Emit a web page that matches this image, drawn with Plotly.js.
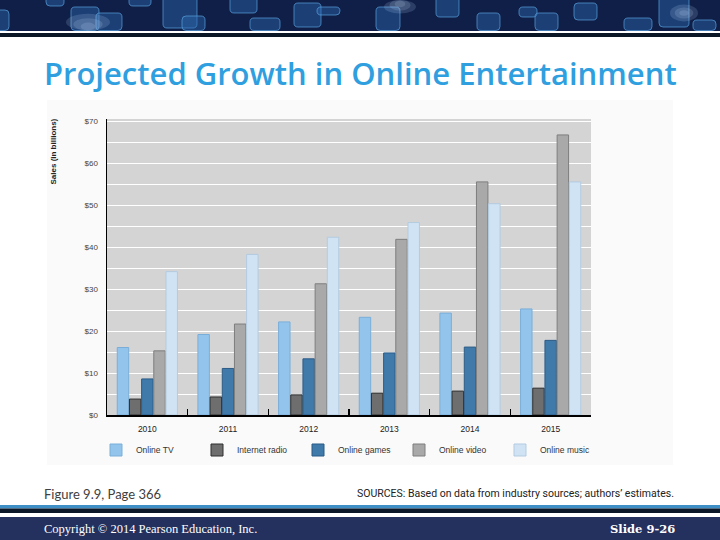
<!DOCTYPE html>
<html>
<head>
<meta charset="utf-8">
<script src="https://cdn.plot.ly/plotly-3.0.1.min.js"></script>
<style>html,body{margin:0;padding:0;background:#fff;}#chart{width:720px;height:540px;}</style>
</head>
<body>
<div id="chart"></div>
<script>
// ---- data ----
const years = ["2010", "2011", "2012", "2013", "2014", "2015"];
const seriesNames = ["Online TV", "Internet radio", "Online games", "Online video", "Online music"];
const onlineTV = [16.1, 19.2, 22.2, 23.3, 24.3, 25.3];
const internetRadio = [3.8, 4.3, 4.8, 5.2, 5.7, 6.4];
const onlineGames = [8.6, 11.1, 13.4, 14.8, 16.2, 17.8];
const onlineVideo = [15.3, 21.7, 31.3, 41.9, 55.6, 66.8];
const onlineMusic = [34.2, 38.3, 42.4, 45.9, 50.4, 55.6];
const yTickVals = [0, 10, 20, 30, 40, 50, 60, 70];
const yTickText = ["$0", "$10", "$20", "$30", "$40", "$50", "$60", "$70"];

// ---- styling ----
const fills = ["#93c4ec", "#6e6e6e", "#3f7aab", "#a9a9a9", "#d0e3f4"];
const outlines = ["#7aaed8", "#2e2e2e", "#2b5b86", "#7e7e7e", "#b3cbe0"];
const values = [onlineTV, internetRadio, onlineGames, onlineVideo, onlineMusic];

const traces = values.map((v, i) => ({
  type: "bar",
  name: seriesNames[i],
  x: years,
  y: v,
  marker: {color: fills[i], line: {color: outlines[i], width: 1}},
  hoverinfo: "skip"
}));

// plot area in pixels
const L = 107, R = 591, T = 119, B = 415;
const px = x => (x - L) / (R - L);
const py = y => (B - y) / (B - T);

function rrect(x0, y0, x1, y1, r) {
  return `M${x0 + r},${y0} L${x1 - r},${y0} Q${x1},${y0} ${x1},${y0 + r} L${x1},${y1 - r} Q${x1},${y1} ${x1 - r},${y1} L${x0 + r},${y1} Q${x0},${y1} ${x0},${y1 - r} L${x0},${y0 + r} Q${x0},${y0} ${x0 + r},${y0} Z`;
}
// pixel -> paper path helper
function pathPx(d) {
  return d.replace(/(-?\d+\.?\d*),(-?\d+\.?\d*)/g, (m, a, b) => `${px(+a).toFixed(5)},${py(+b).toFixed(5)}`);
}
function rectPx(x0, y0, x1, y1, color, extra) {
  return Object.assign({type: "rect", xref: "paper", yref: "paper", layer: "below",
    x0: px(x0), x1: px(x1), y0: py(y1), y1: py(y0), fillcolor: color, line: {width: 0}}, extra || {});
}

const shapes = [];
// chart image background (around the plot area)
const bg = "#fafafa";
shapes.push(rectPx(47, 100, 673, T, bg));
shapes.push(rectPx(47, B, 673, 465, bg));
shapes.push(rectPx(47, T, L, B, bg));
shapes.push(rectPx(R, T, 673, B, bg));
// header banner
shapes.push(rectPx(0, 0, 720, 31, "#0f1f48"));
shapes.push(rectPx(0, 33, 720, 37, "#0c1726"));
const squares = [
  [-4, 10, 9, 31], [46, -4, 64, 6], [71, 7, 99, 31], [96, 13, 122, 31], [129, -4, 151, 6],
  [163, -4, 197, 28], [182, 16, 205, 31], [230, -4, 257, 13], [250, 18, 280, 31], [294, 3, 321, 27],
  [317, 7, 340, 15], [376, 7, 400, 31], [436, -4, 459, 17], [477, 13, 500, 31], [519, 7, 537, 17],
  [535, 13, 558, 31], [574, 3, 597, 20], [624, 18, 652, 31], [659, -4, 689, 27], [693, 20, 716, 31]
];
squares.forEach(s => {
  shapes.push({type: "path", xref: "paper", yref: "paper", layer: "below",
    path: pathPx(rrect(s[0], s[1], s[2], Math.min(s[3], 30.5), 4)),
    fillcolor: "rgba(45,105,175,0.45)", line: {color: "rgba(90,160,220,0.7)", width: 1}});
});
[[88, 27, 22], [400, 4, 16], [684, 13, 14]].forEach(g => {
  for (let k = 3; k >= 1; k--) {
    const r = g[2] * k / 3;
    shapes.push({type: "circle", xref: "paper", yref: "paper", layer: "below",
      x0: px(g[0] - r), x1: px(g[0] + r), y0: py(Math.min(g[1] + r * 0.6, 30.5)), y1: py(Math.max(g[1] - r * 0.6, 0)),
      fillcolor: "rgba(200,225,255,0.16)", line: {width: 0}});
  }
});
// footer
shapes.push(rectPx(0, 505, 720, 508.5, "#3d8fc6"));
shapes.push(rectPx(0, 508.5, 720, 513, "#0b1626"));
shapes.push(rectPx(0, 517, 720, 540, "#24305e"));

const annotations = [
  {text: "Projected Growth in Online Entertainment", x: px(42), y: py(73), xanchor: "left", yanchor: "middle",
    font: {family: "Open Sans", size: 31, color: "#2f9fe0", weight: 600}},
  {text: "Sales (in billions)", x: px(53), y: py(151.5), textangle: -90, xanchor: "center", yanchor: "middle",
    font: {family: "Liberation Sans", size: 8, color: "#222", weight: 700}},
  {text: "Figure 9.9, Page 366", x: px(42), y: py(494), xanchor: "left", yanchor: "middle",
    font: {family: "Lato", size: 13, color: "#404040"}},
  {text: "SOURCES: Based on data from industry sources; authors\u2019 estimates.", x: px(676), y: py(493), xanchor: "right", yanchor: "middle",
    font: {family: "Roboto", size: 10.5, color: "#222"}},
  {text: "Copyright \u00a9 2014 Pearson Education, Inc.", x: px(42), y: py(529), xanchor: "left", yanchor: "middle",
    font: {family: "Liberation Serif", size: 12.5, color: "#ffffff"}},
  {text: "Slide 9-26", x: px(677), y: py(529), xanchor: "right", yanchor: "middle",
    font: {family: "DejaVu Serif", size: 11.5, color: "#ffffff", weight: 700}}
].map(a => Object.assign({xref: "paper", yref: "paper", showarrow: false}, a));

const layout = {
  width: 720, height: 540,
  margin: {l: L, r: 720 - R, t: T, b: 540 - B, pad: 0},
  paper_bgcolor: "#ffffff",
  plot_bgcolor: "#d4d4d4",
  barmode: "group",
  bargap: 0.245,
  bargroupgap: 0.06,
  showlegend: true,
  legend: {orientation: "h", x: px(96), y: py(450), xanchor: "left", yanchor: "middle",
    font: {family: "Liberation Sans", size: 8.5, color: "#333"}, bgcolor: "rgba(0,0,0,0)",
    entrywidth: 56, entrywidthmode: "pixels", traceorder: "normal"},
  xaxis: {type: "category", showline: true, linecolor: "#000", linewidth: 1.5, layer: "below traces",
    tickson: "boundaries", ticks: "inside", ticklen: 6, tickwidth: 1.5, tickcolor: "#000",
    ticklabelstandoff: 5,
    showgrid: false, zeroline: false, fixedrange: true,
    tickfont: {family: "Liberation Sans", size: 8.5, color: "#222"}},
  yaxis: {range: [0, 70.6], showline: true, linecolor: "#000", linewidth: 1.5,
    tickvals: yTickVals, ticktext: yTickText, ticks: "", ticklabelstandoff: 6,
    showgrid: true, gridcolor: "#ffffff", gridwidth: 1, zeroline: false, fixedrange: true,
    minor: {dtick: 5, showgrid: true, gridcolor: "#ffffff", gridwidth: 1},
    tickfont: {family: "Liberation Sans", size: 8, color: "#444"}},
  shapes: shapes,
  annotations: annotations
};

Plotly.newPlot("chart", traces, layout, {displayModeBar: false, staticPlot: true});
</script>
</body>
</html>
